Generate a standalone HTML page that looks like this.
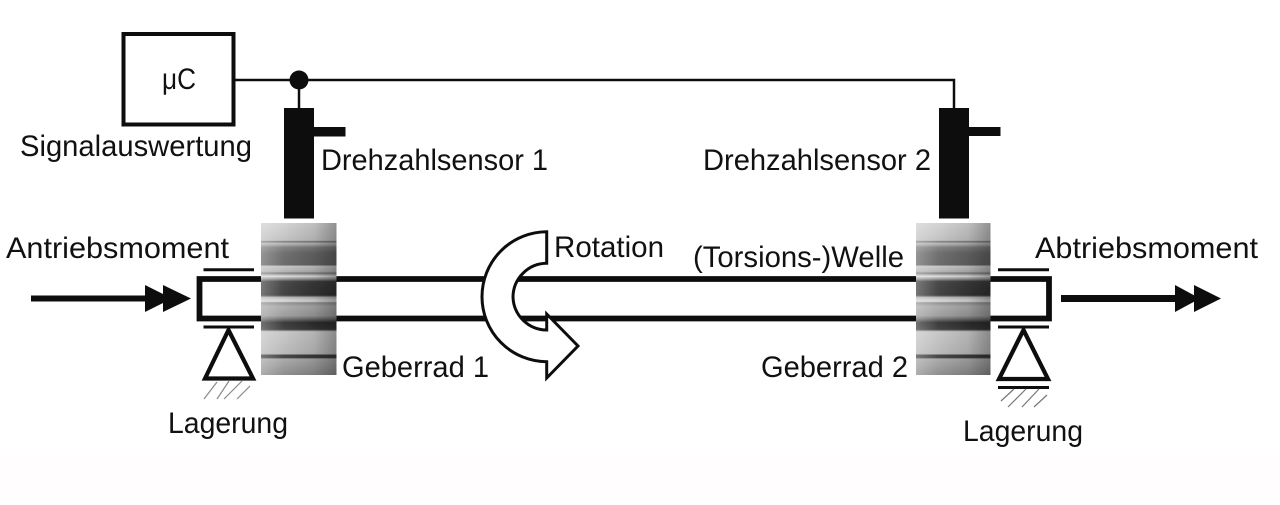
<!DOCTYPE html>
<html><head><meta charset="utf-8"><style>
html,body{margin:0;padding:0;background:#fff}
svg{display:block}
text{font-family:"Liberation Sans",sans-serif;font-size:30px;fill:#111}
</style></head><body>
<svg width="1280" height="505" viewBox="0 0 1280 505" xmlns="http://www.w3.org/2000/svg">
<defs>
<linearGradient id="sh" x1="0" x2="1" y1="0" y2="0">
<stop offset="0" stop-color="#fff" stop-opacity=".32"/><stop offset=".3" stop-color="#fff" stop-opacity=".08"/>
<stop offset=".7" stop-color="#000" stop-opacity=".08"/><stop offset="1" stop-color="#000" stop-opacity=".3"/>
</linearGradient>
<linearGradient id="g" x1="0" x2="0" y1="0" y2="1">
<stop offset="0" stop-color="#d0d0d0"/><stop offset=".115" stop-color="#bdbdbd"/>
<stop offset=".122" stop-color="#707070"/><stop offset=".135" stop-color="#b8b8b8"/>
<stop offset=".16" stop-color="#7a7a7a"/><stop offset=".2" stop-color="#646464"/><stop offset=".275" stop-color="#606060"/>
<stop offset=".285" stop-color="#c2c2c2"/><stop offset=".32" stop-color="#b0b0b0"/><stop offset=".33" stop-color="#777"/>
<stop offset=".35" stop-color="#dcdcdc"/><stop offset=".37" stop-color="#888"/><stop offset=".385" stop-color="#3a3a3a"/>
<stop offset=".475" stop-color="#333"/><stop offset=".49" stop-color="#b8b8b8"/><stop offset=".515" stop-color="#d8d8d8"/>
<stop offset=".525" stop-color="#8c8c8c"/><stop offset=".55" stop-color="#a8a8a8"/><stop offset=".61" stop-color="#979797"/>
<stop offset=".635" stop-color="#606060"/><stop offset=".655" stop-color="#2c2c2c"/><stop offset=".7" stop-color="#353535"/>
<stop offset=".715" stop-color="#c4c4c4"/><stop offset=".86" stop-color="#b4b4b4"/><stop offset=".87" stop-color="#3a3a3a"/>
<stop offset=".885" stop-color="#333"/><stop offset=".895" stop-color="#a4a4a4"/><stop offset="1" stop-color="#858585"/>
</linearGradient>
<filter id="b" x="-5%" y="-5%" width="110%" height="110%"><feGaussianBlur stdDeviation="0.3"/></filter>
</defs>
<rect width="1280" height="505" fill="#fff"/>
<rect y="455" width="1280" height="50" fill="#fffdfe"/>
<g filter="url(#b)">
<!-- controller -->
<rect x="123.500" y="34" width="110" height="90.500" fill="#fff" stroke="#111" stroke-width="4"/>
<path d="M235 80H954V108M299 80V108" fill="none" stroke="#111" stroke-width="2.500"/>
<circle cx="299" cy="80" r="9.500" fill="#111"/>
<!-- sensors -->
<path d="M284 108H314V127H345.500V136.500H314V218.500H284Z" fill="#111"/>
<path d="M939 108H969V127H1000.500V136H969V218.500H939Z" fill="#111"/>
<!-- shaft -->
<path d="M262 279H199.500V318.500H262M336 279H916M336 318.500H916M990 279H1049V318.500H990" fill="none" stroke="#111" stroke-width="5.800"/>
<!-- bearings left -->
<path d="M203.500 269.800H254M203.500 327H254" stroke="#111" stroke-width="3"/>
<path d="M228.500 330L205 378.500H253Z" fill="#fff" stroke="#111" stroke-width="4.200"/>
<path d="M204 399L217 382M204 399M217 399L229 381M224 399L242 381M237 399L250 386" fill="none" stroke="#888" stroke-width="1.200"/>
<!-- bearings right -->
<path d="M998 269.800H1049M998 327H1049M998 387.500H1049" stroke="#111" stroke-width="3"/>
<path d="M1023.500 330L999 379H1048Z" fill="#fff" stroke="#111" stroke-width="4.200"/>
<path d="M1001 401L1014 389M1008 407L1026 389M1022 407L1039 389M1034 407L1047 395" fill="none" stroke="#777" stroke-width="1.200"/>
<!-- gears -->
<rect x="261" y="223" width="75.500" height="152" fill="url(#g)"/>
<rect x="261" y="223" width="75.500" height="152" fill="url(#sh)"/>
<rect x="916" y="223" width="74.500" height="152" fill="url(#g)"/>
<rect x="916" y="223" width="74.500" height="152" fill="url(#sh)"/>
<!-- torque arrows -->
<path d="M31 298.500H146" stroke="#111" stroke-width="6"/>
<path d="M145 285V312L172 298.500ZM163 285V312L191 298.500Z" fill="#111"/>
<path d="M1061 298.500H1176" stroke="#111" stroke-width="7"/>
<path d="M1175 285V312L1200 298.500ZM1194 285V312L1221 298.500Z" fill="#111"/>
<!-- rotation arrow -->
<path d="M546.700 231.700A65 65 0 0 0 482 296.500A65 65 0 0 0 546.700 361.700V378L578 346L546.700 314V330A34 34 0 0 1 513 297A34 34 0 0 1 546.700 263.300Z" fill="#fff" stroke="#111" stroke-width="3" stroke-linejoin="miter"/>
</g>
<!-- labels -->
<text x="162" y="89" textLength="34" lengthAdjust="spacingAndGlyphs">μC</text>
<text x="20" y="156" textLength="232" lengthAdjust="spacingAndGlyphs">Signalauswertung</text>
<text x="321" y="170" textLength="227" lengthAdjust="spacingAndGlyphs">Drehzahlsensor 1</text>
<text x="703" y="170" textLength="228" lengthAdjust="spacingAndGlyphs">Drehzahlsensor 2</text>
<text x="6" y="258" textLength="223" lengthAdjust="spacingAndGlyphs">Antriebsmoment</text>
<text x="1035" y="258" textLength="223" lengthAdjust="spacingAndGlyphs">Abtriebsmoment</text>
<text x="554" y="257" textLength="110" lengthAdjust="spacingAndGlyphs">Rotation</text>
<text x="693" y="267" textLength="211" lengthAdjust="spacingAndGlyphs">(Torsions-)Welle</text>
<text x="342" y="377" textLength="147" lengthAdjust="spacingAndGlyphs">Geberrad 1</text>
<text x="761" y="377" textLength="147" lengthAdjust="spacingAndGlyphs">Geberrad 2</text>
<text x="168" y="433" textLength="120" lengthAdjust="spacingAndGlyphs">Lagerung</text>
<text x="963" y="441" textLength="120" lengthAdjust="spacingAndGlyphs">Lagerung</text>
</svg>
</body></html>
